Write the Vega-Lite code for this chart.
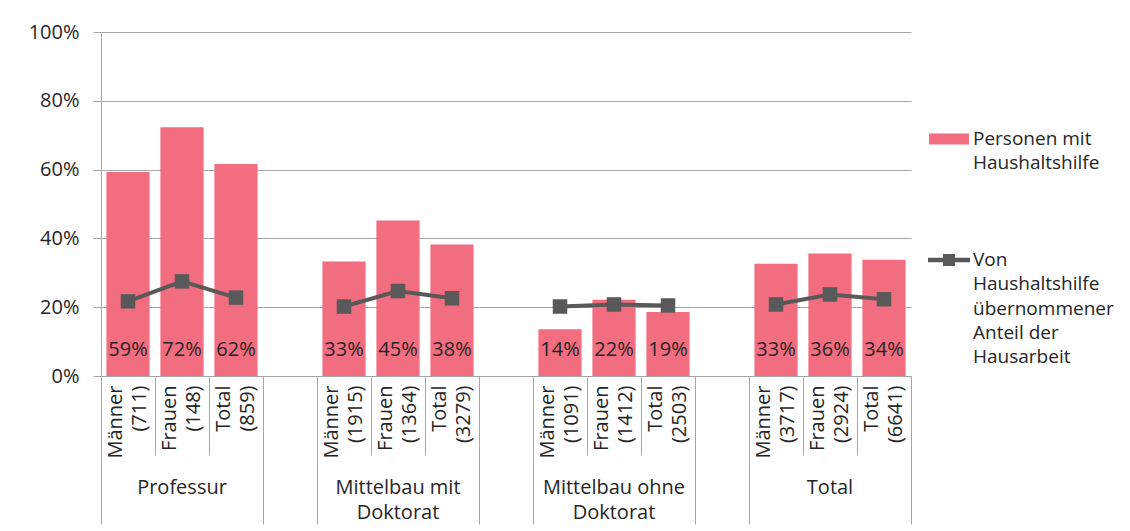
{
  "$schema": "https://vega.github.io/schema/vega-lite/v6.json",
  "width": 810,
  "height": 344,
  "autosize": {"type": "none"},
  "padding": {"left": 101, "top": 32, "right": 219, "bottom": 155},
  "background": "white",
  "config": {
    "font": "Open Sans",
    "view": {"stroke": null},
    "axis": {"labelFont": "Open Sans", "labelFontSize": 20, "labelColor": "#262626", "domainColor": "#a6a6a6", "tickColor": "#a6a6a6", "gridColor": "#a6a6a6", "title": null},
    "legend": {"labelFont": "Open Sans", "labelFontSize": 19, "labelColor": "#262626", "labelLimit": 400}
  },
  "data": {
    "values": [
      {"slot": "Männer (711)", "group": "Professur", "bar": 0.593, "line": 0.217},
      {"slot": "Frauen (148)", "group": "Professur", "bar": 0.723, "line": 0.275},
      {"slot": "Total (859)", "group": "Professur", "bar": 0.616, "line": 0.228},
      {"slot": "Männer (1915)", "group": "Mittelbau mit Doktorat", "bar": 0.333, "line": 0.202},
      {"slot": "Frauen (1364)", "group": "Mittelbau mit Doktorat", "bar": 0.452, "line": 0.247},
      {"slot": "Total (3279)", "group": "Mittelbau mit Doktorat", "bar": 0.382, "line": 0.226},
      {"slot": "Männer (1091)", "group": "Mittelbau ohne Doktorat", "bar": 0.136, "line": 0.202},
      {"slot": "Frauen (1412)", "group": "Mittelbau ohne Doktorat", "bar": 0.222, "line": 0.208},
      {"slot": "Total (2503)", "group": "Mittelbau ohne Doktorat", "bar": 0.186, "line": 0.205},
      {"slot": "Männer (3717)", "group": "Total", "bar": 0.326, "line": 0.208},
      {"slot": "Frauen (2924)", "group": "Total", "bar": 0.356, "line": 0.237},
      {"slot": "Total (6641)", "group": "Total", "bar": 0.338, "line": 0.223}
    ]
  },
  "layer": [
    {
      "mark": {"type": "bar", "width": {"band": 0.8}},
      "encoding": {
        "x": {
          "field": "slot", "type": "nominal", "sort": null,
          "scale": {"domain": ["Männer (711)", "Frauen (148)", "Total (859)", "_1", "Männer (1915)", "Frauen (1364)", "Total (3279)", "_2", "Männer (1091)", "Frauen (1412)", "Total (2503)", "_3", "Männer (3717)", "Frauen (2924)", "Total (6641)"], "paddingInner": 0, "paddingOuter": 0},
          "axis": {
            "orient": "bottom", "title": null, "bandPosition": 1,
            "labelAngle": -90, "labelAlign": "right", "labelBaseline": "middle", "labelOffset": -12.5,
            "labelExpr": "indexof(datum.value, '_') == 0 ? '' : split(datum.value, ' ')",
            "labelLineHeight": 24, "labelOverlap": false, "labelBound": false,
            "tickSize": {"condition": {"test": "indexof(datum.value, 'Total') == 0 || indexof(datum.value, '_') == 0", "value": 148}, "value": 79},
            "labelPadding": {"condition": {"test": "indexof(datum.value, 'Total') == 0 || indexof(datum.value, '_') == 0", "value": -139}, "value": -70},
            "grid": false
          }
        },
        "y": {
          "field": "bar", "type": "quantitative",
          "scale": {"domain": [0, 1], "nice": false},
          "axis": {"title": null, "values": [0, 0.2, 0.4, 0.6, 0.8, 1], "format": ".0%", "grid": true, "tickSize": 8, "labelPadding": 14, "domain": true}
        },
        "fill": {
          "datum": "Personen mit Haushaltshilfe",
          "scale": {"range": ["#F26D80"]},
          "legend": {
            "title": null, "orient": "none", "legendX": 838, "legendY": 97, "padding": 0,
            "symbolType": "M-2,-0.55H2V0.55H-2Z", "symbolSize": 400, "symbolStrokeWidth": 0,
            "labelOffset": 14, "labelBaseline": "top",
            "labelExpr": "datum.label == 'Personen mit Haushaltshilfe' ? ['Personen mit', 'Haushaltshilfe'] : datum.label",
            "encode": {"labels": {"update": {"lineHeight": {"value": 23.5}, "dy": {"value": -9}}}}
          }
        }
      }
    },
    {
      "mark": {"type": "text", "dy": -26, "fontSize": 20, "font": "Open Sans", "color": "#262626", "baseline": "middle"},
      "encoding": {
        "x": {"field": "slot", "type": "nominal", "sort": null, "axis": null},
        "y": {"datum": 0, "type": "quantitative", "axis": {"title": null, "values": [0, 0.2, 0.4, 0.6, 0.8, 1], "format": ".0%", "grid": true, "tickSize": 8, "labelPadding": 14, "domain": true}},
        "text": {"field": "bar", "type": "quantitative", "format": ".0%"}
      }
    },
    {
      "mark": {"type": "line", "strokeWidth": 4},
      "encoding": {
        "x": {
          "field": "slot", "type": "nominal", "sort": null,
          "axis": {
            "orient": "bottom", "title": null, "bandPosition": 0, "domain": false,
            "labelAngle": 0, "labelAlign": "center", "labelBaseline": "top",
            "labelExpr": "datum.value == 'Frauen (148)' ? 'Professur' : datum.value == 'Frauen (1364)' ? ['Mittelbau mit', 'Doktorat'] : datum.value == 'Frauen (1412)' ? ['Mittelbau ohne', 'Doktorat'] : datum.value == 'Frauen (2924)' ? 'Total' : ''",
            "labelLineHeight": 25, "labelOverlap": false, "labelBound": false, "labelPadding": 101.5,
            "tickSize": {"condition": {"test": "datum.value == 'Männer (711)'", "value": 148}, "value": 0},
            "tickOpacity": {"condition": {"test": "datum.value == 'Männer (711)'", "value": 1}, "value": 0},
            "grid": false
          }
        },
        "y": {"field": "line", "type": "quantitative", "axis": {"title": null, "values": [0, 0.2, 0.4, 0.6, 0.8, 1], "format": ".0%", "grid": true, "tickSize": 8, "labelPadding": 14, "domain": true}},
        "detail": {"field": "group"},
        "stroke": {
          "datum": "Von Haushaltshilfe übernommener Anteil der Hausarbeit",
          "scale": {"range": ["#595959"]},
          "legend": {
            "title": null, "orient": "none", "legendX": 838, "legendY": 218, "padding": 0,
            "symbolType": "M-2.1,-0.22H2.1V0.22H-2.1Z M-0.6,-0.6H0.6V0.6H-0.6Z", "symbolSize": 400,
            "labelOffset": 14, "labelBaseline": "top",
            "labelExpr": "['Von', 'Haushaltshilfe', 'übernommener', 'Anteil der', 'Hausarbeit']",
            "encode": {"symbols": {"update": {"fill": {"value": "#595959"}, "strokeWidth": {"value": 0}}}, "labels": {"update": {"lineHeight": {"value": 24.3}, "dy": {"value": -9}}}}
          }
        }
      }
    },
    {
      "mark": {"type": "point", "shape": "square", "filled": true, "size": 210, "color": "#595959", "opacity": 1},
      "encoding": {
        "x": {"field": "slot", "type": "nominal", "sort": null, "axis": null},
        "y": {"field": "line", "type": "quantitative", "axis": {"title": null, "values": [0, 0.2, 0.4, 0.6, 0.8, 1], "format": ".0%", "grid": true, "tickSize": 8, "labelPadding": 14, "domain": true}}
      }
    }
  ],
  "resolve": {"axis": {"x": "independent"}}
}
